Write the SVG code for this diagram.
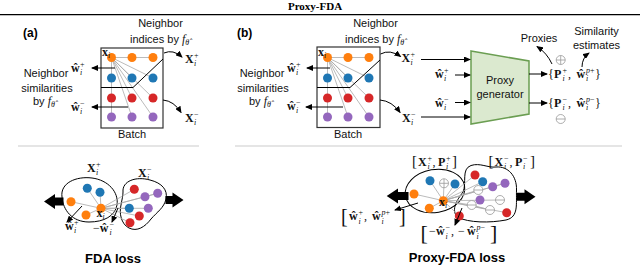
<svg xmlns="http://www.w3.org/2000/svg" width="640" height="275" viewBox="0 0 640 275">
<defs>
<marker id="ah" markerUnits="userSpaceOnUse" markerWidth="7" markerHeight="6" refX="6" refY="3" orient="auto">
<path d="M0,0 L7,3 L0,6 z" fill="#000"/>
</marker>
<style>
.o{fill:#ff7f0e}.b{fill:#1f77b4}.r{fill:#d62728}.p{fill:#9467bd}
.gl{stroke:#aaa;stroke-width:0.8;fill:none}
.ln{stroke:#000;stroke-width:1;fill:none}
.ar{stroke:#000;stroke-width:1;fill:none;marker-end:url(#ah)}
.lbl{font-family:"Liberation Sans",Arial,sans-serif;font-size:11px;fill:#111}
.hd{font-family:"Liberation Sans",Arial,sans-serif;font-size:12px;font-weight:bold}
.ttl{font-family:"Liberation Serif","Times New Roman",serif;font-size:11px;font-weight:bold}
.m{font-family:"Liberation Serif","Times New Roman",serif;font-size:12px;font-weight:bold;fill:#111}
.s{font-size:8px;font-weight:normal;font-style:italic}
.sn{font-size:8px;font-weight:normal}
.rg{font-weight:normal}
.blob{fill:none;stroke:#000;stroke-width:1}
.pm{fill:#fff;stroke:#999;stroke-width:0.8}
.box{fill:#fff;stroke:#333;stroke-width:1.2}
.big{fill:#000}
.loss{font-family:"Liberation Sans",Arial,sans-serif;font-size:13px;font-weight:bold}
</style>
</defs>

<!-- header -->
<text class="ttl" x="315" y="9.5" text-anchor="middle">Proxy-FDA</text>
<line x1="0" y1="14.7" x2="640" y2="14.7" stroke="#000" stroke-width="1.3"/>
<line x1="18" y1="146" x2="199" y2="146" stroke="#ddd" stroke-width="1.5"/>
<line x1="235" y1="146" x2="622" y2="146" stroke="#ddd" stroke-width="1.5"/>

<!-- ===== Panel (a) top ===== -->
<g id="label-a"><text class="hd" x="23" y="37">(a)</text></g>
<g id="a-indices-label">
<text class="lbl" x="160.5" y="27" text-anchor="middle">Neighbor</text>
<text class="lbl" x="130" y="43">indices by <tspan font-family="Liberation Serif,serif" font-style="italic" font-size="12">f</tspan><tspan font-family="Liberation Serif,serif" font-style="italic" font-size="8" dy="2">θ̂</tspan></text>
</g>
<g id="a-similarities-label">
<text class="lbl" x="46" y="77" text-anchor="middle">Neighbor</text>
<text class="lbl" x="47" y="92" text-anchor="middle">similarities</text>
<text class="lbl" x="33" y="105">by <tspan font-family="Liberation Serif,serif" font-style="italic" font-size="12">f</tspan><tspan font-family="Liberation Serif,serif" font-style="italic" font-size="8" dy="2">θ̂</tspan></text>
</g>
<g id="a-batch">
<rect class="box" x="101" y="48" width="62" height="80"/>
<g class="gl">
<line x1="111.5" y1="57.5" x2="153" y2="57.5"/>
<line x1="111.5" y1="57.5" x2="132" y2="78"/>
<line x1="111.5" y1="57.5" x2="153" y2="78"/>
<line x1="111.5" y1="57.5" x2="111.5" y2="117"/>
<line x1="111.5" y1="57.5" x2="132" y2="98"/>
<line x1="111.5" y1="57.5" x2="153" y2="98"/>
<line x1="111.5" y1="57.5" x2="132" y2="117"/>
<line x1="111.5" y1="57.5" x2="153" y2="117"/>
</g>
<circle class="o" cx="111.5" cy="57.5" r="4.5"/><circle class="o" cx="132" cy="57.5" r="4.5"/><circle class="o" cx="153" cy="57.5" r="4.5"/>
<circle class="b" cx="111.5" cy="78" r="4.5"/><circle class="b" cx="132" cy="78" r="4.5"/><circle class="b" cx="153" cy="78" r="4.5"/>
<circle class="r" cx="111.5" cy="98" r="4.5"/><circle class="r" cx="132" cy="98" r="4.5"/><circle class="r" cx="153" cy="98" r="4.5"/>
<circle class="p" cx="111.5" cy="117" r="4.5"/><circle class="p" cx="132" cy="117" r="4.5"/><circle class="p" cx="153" cy="117" r="4.5"/>
<path class="ln" d="M101,87.5 H133 L163,59"/>
<text class="m" x="102" y="55.5" font-size="11">x<tspan class="s" dy="2">i</tspan></text>
<text class="lbl" x="132" y="137.5" text-anchor="middle">Batch</text>
</g>
<g id="a-w-plus"><text class="m" x="71" y="71.5">ŵ<tspan class="sn" x="80" y="66.5">+</tspan><tspan class="s" x="80" y="74.5">i</tspan></text></g>
<g id="a-w-minus"><text class="m" x="71" y="111">ŵ<tspan class="sn" x="80" y="106">−</tspan><tspan class="s" x="80" y="114">i</tspan></text></g>
<g id="a-X-plus"><text class="m" x="185" y="63">X<tspan class="sn" x="194" y="58">+</tspan><tspan class="s" x="194" y="66">i</tspan></text></g>
<g id="a-X-minus"><text class="m" x="185" y="122">X<tspan class="sn" x="194" y="117">−</tspan><tspan class="s" x="194" y="125">i</tspan></text></g>

<!-- ===== Panel (b) top ===== -->
<g id="label-b"><text class="hd" x="237" y="37">(b)</text></g>
<g id="b-indices-label">
<text class="lbl" x="375.5" y="27" text-anchor="middle">Neighbor</text>
<text class="lbl" x="345" y="43">indices by <tspan font-family="Liberation Serif,serif" font-style="italic" font-size="12">f</tspan><tspan font-family="Liberation Serif,serif" font-style="italic" font-size="8" dy="2">θ̂</tspan></text>
</g>
<g id="b-similarities-label">
<text class="lbl" x="262" y="77" text-anchor="middle">Neighbor</text>
<text class="lbl" x="263" y="92" text-anchor="middle">similarities</text>
<text class="lbl" x="249" y="105">by <tspan font-family="Liberation Serif,serif" font-style="italic" font-size="12">f</tspan><tspan font-family="Liberation Serif,serif" font-style="italic" font-size="8" dy="2">θ̂</tspan></text>
</g>
<g id="b-batch">
<rect class="box" x="317" y="47" width="63" height="80.5"/>
<g class="gl">
<line x1="327.5" y1="57.5" x2="369" y2="57.5"/>
<line x1="327.5" y1="57.5" x2="348" y2="78"/>
<line x1="327.5" y1="57.5" x2="369" y2="78"/>
<line x1="327.5" y1="57.5" x2="327.5" y2="117"/>
<line x1="327.5" y1="57.5" x2="348" y2="98"/>
<line x1="327.5" y1="57.5" x2="369" y2="98"/>
<line x1="327.5" y1="57.5" x2="348" y2="117"/>
<line x1="327.5" y1="57.5" x2="369" y2="117"/>
</g>
<circle class="o" cx="327.5" cy="57.5" r="4.5"/><circle class="o" cx="348" cy="57.5" r="4.5"/><circle class="o" cx="369" cy="57.5" r="4.5"/>
<circle class="b" cx="327.5" cy="78" r="4.5"/><circle class="b" cx="348" cy="78" r="4.5"/><circle class="b" cx="369" cy="78" r="4.5"/>
<circle class="r" cx="327.5" cy="98" r="4.5"/><circle class="r" cx="348" cy="98" r="4.5"/><circle class="r" cx="369" cy="98" r="4.5"/>
<circle class="p" cx="327.5" cy="117" r="4.5"/><circle class="p" cx="348" cy="117" r="4.5"/><circle class="p" cx="369" cy="117" r="4.5"/>
<path class="ln" d="M317,87.5 H350 L380,60"/>
<text class="m" x="318" y="55.5" font-size="11">x<tspan class="s" dy="2">i</tspan></text>
<text class="lbl" x="348" y="137.5" text-anchor="middle">Batch</text>
</g>
<g id="b-w-plus"><text class="m" x="287" y="72">ŵ<tspan class="sn" x="296" y="67">+</tspan><tspan class="s" x="296" y="75">i</tspan></text></g>
<g id="b-w-minus"><text class="m" x="287" y="110">ŵ<tspan class="sn" x="296" y="105">−</tspan><tspan class="s" x="296" y="113">i</tspan></text></g>
<g id="b-X-plus"><text class="m" x="401.5" y="61.5">X<tspan class="sn" x="410.5" y="56.5">+</tspan><tspan class="s" x="410.5" y="64.5">i</tspan></text></g>
<g id="b-X-minus"><text class="m" x="402" y="122">X<tspan class="sn" x="411" y="117">−</tspan><tspan class="s" x="411" y="125">i</tspan></text></g>
<g id="b-w-plus-2"><text class="m" x="435" y="78">ŵ<tspan class="sn" x="444" y="73">+</tspan><tspan class="s" x="444" y="81">i</tspan></text></g>
<g id="b-w-minus-2"><text class="m" x="435" y="106.5">ŵ<tspan class="sn" x="444" y="101.5">−</tspan><tspan class="s" x="444" y="109.5">i</tspan></text></g>

<g id="proxy-generator">
<polygon points="471,51 529,61 529,114 471,124" fill="#dbe9cf" stroke="#6b9e52" stroke-width="1.5"/>
<text class="lbl" x="500" y="84" text-anchor="middle">Proxy</text>
<text class="lbl" x="500" y="97.5" text-anchor="middle">generator</text>
</g>
<g id="out-plus"><text class="m" x="548" y="78"><tspan class="rg">{</tspan><tspan x="554">P</tspan><tspan class="sn" x="562.5" y="73">+</tspan><tspan class="s" x="562.5" y="81">i</tspan><tspan class="rg" x="568" y="78">,</tspan><tspan x="576.5">ŵ</tspan><tspan class="s" x="586" y="73">p</tspan><tspan class="sn" y="73">+</tspan><tspan class="s" x="586" y="81">i</tspan><tspan class="rg" x="595" y="78">}</tspan></text></g>
<g id="out-minus"><text class="m" x="548" y="107"><tspan class="rg">{</tspan><tspan x="554">P</tspan><tspan class="sn" x="562.5" y="102">−</tspan><tspan class="s" x="562.5" y="110">i</tspan><tspan class="rg" x="568" y="107">,</tspan><tspan x="576.5">ŵ</tspan><tspan class="s" x="586" y="102">p</tspan><tspan class="sn" y="102">−</tspan><tspan class="s" x="586" y="110">i</tspan><tspan class="rg" x="595" y="107">}</tspan></text></g>
<g id="plus-sym"><circle class="pm" cx="560.7" cy="60" r="4.5"/><path d="M556.2,60 H565.2 M560.7,55.5 V64.5" stroke="#999" stroke-width="0.8"/></g>
<g id="minus-sym"><circle class="pm" cx="560.7" cy="119" r="4.5"/><path d="M556.2,119 H565.2" stroke="#999" stroke-width="0.8"/></g>
<g id="proxies-label"><text class="lbl" x="539" y="41.5" text-anchor="middle">Proxies</text></g>
<g id="similarity-label">
<text class="lbl" x="596.5" y="35" text-anchor="middle">Similarity</text>
<text class="lbl" x="596.5" y="48.5" text-anchor="middle">estimates</text>
</g>

<!-- ===== Panel (a) bottom ===== -->
<g id="a-loss">
<polygon class="big" points="44,201.5 55,194 55,197.5 63.5,197.5 63.5,205.5 55,205.5 55,209"/>
<polygon class="big" points="183.5,200 172.5,192.5 172.5,196 165.5,196 165.5,204 172.5,204 172.5,207.5"/>
<path class="blob" d="M62,197 C60,183 76,176 92,178 C108,180 119,192 117,205 C115,216 104,222 89,222 C72,222 63,210 62,197 Z"/>
<path class="blob" d="M123,192 C122,181 136,176 150,180 C162,183 168,190 166,199 C164,208 157,212 151,219 C145,227 137,232 129,228 C121,224 119,213 121,205 C122,199 123,196 123,192 Z"/>
<g class="gl">
<line x1="101" y1="208.3" x2="71" y2="201.7"/><line x1="101" y1="208.3" x2="87.3" y2="188.3"/><line x1="101" y1="208.3" x2="100" y2="192.3"/><line x1="101" y1="208.3" x2="86" y2="215"/>
<line x1="101" y1="208.3" x2="134.3" y2="189.3"/><line x1="101" y1="208.3" x2="145" y2="196.7"/><line x1="101" y1="208.3" x2="157.7" y2="193.3"/><line x1="101" y1="208.3" x2="129.3" y2="208.3"/>
<line x1="101" y1="208.3" x2="148.3" y2="208.3"/><line x1="101" y1="208.3" x2="139.3" y2="216"/><line x1="101" y1="208.3" x2="130" y2="222.7"/>
<line x1="145" y1="196.7" x2="157.7" y2="193.3"/>
</g>
<circle class="o" cx="71" cy="201.7" r="4.5"/><circle class="b" cx="87.3" cy="188.3" r="4.5"/><circle class="b" cx="100" cy="192.3" r="4.5"/><circle class="o" cx="86" cy="215" r="4.5"/>
<circle class="r" cx="134.3" cy="189.3" r="4.5"/><circle class="p" cx="145" cy="196.7" r="4.5"/><circle class="p" cx="157.7" cy="193.3" r="4.5"/><circle class="b" cx="129.3" cy="208.3" r="4.5"/>
<circle class="p" cx="148.3" cy="208.3" r="4.5"/><circle class="r" cx="139.3" cy="216" r="4.5"/><circle class="r" cx="130" cy="222.7" r="4.5"/>
<circle class="o" cx="101" cy="208.3" r="4.5"/>
<text class="m" x="96.5" y="217" font-size="11">x<tspan class="s" dy="2">i</tspan></text>
<text class="m" x="87" y="171.5">X<tspan class="sn" x="96" y="166.5">+</tspan><tspan class="s" x="96" y="174.5">i</tspan></text>
<text class="m" x="138" y="177">X<tspan class="sn" x="147" y="172">−</tspan><tspan class="s" x="147" y="180">i</tspan></text>
<text class="m" x="65" y="230">ŵ<tspan class="sn" x="74" y="225">+</tspan><tspan class="s" x="74" y="233">i</tspan></text>
<text class="m" x="93" y="231.5"><tspan class="rg">−</tspan>ŵ<tspan class="sn" x="109.5" y="226.5">−</tspan><tspan class="s" x="109.5" y="234.5">i</tspan></text>
<text class="loss" x="113" y="263" text-anchor="middle">FDA loss</text>
</g>

<!-- ===== Panel (b) bottom ===== -->
<g id="b-loss">
<polygon class="big" points="386.7,196 398,188.5 398,192 408.5,192 408.5,200 398,200 398,203.5"/>
<polygon class="big" points="535.5,196.7 524.5,189.2 524.5,192.7 516.5,192.7 516.5,200.7 524.5,200.7 524.5,204.2"/>
<ellipse class="blob" cx="435" cy="191" rx="30" ry="21.5" transform="rotate(-10 435 191)"/>
<path class="blob" d="M457,217 C451,209 457,200 463,192 C467,183 461,169 471,165.5 C480,162.5 488,168 496,167 C508,166 517,176 516.5,190 C516,204 519,217 506,220 C490,223 469,223 457,217 Z"/>
<g class="gl">
<line x1="443.3" y1="200.7" x2="430" y2="180.7"/><line x1="443.3" y1="200.7" x2="444" y2="183.3"/><line x1="443.3" y1="200.7" x2="455" y2="184"/><line x1="443.3" y1="200.7" x2="414" y2="194"/>
<line x1="443.3" y1="200.7" x2="429.3" y2="208.3"/><line x1="443.3" y1="200.7" x2="475" y2="175"/><line x1="443.3" y1="200.7" x2="482.7" y2="181.7"/><line x1="443.3" y1="200.7" x2="492.7" y2="186.7"/>
<line x1="443.3" y1="200.7" x2="505" y2="183.3"/><line x1="443.3" y1="200.7" x2="478.3" y2="190"/><line x1="443.3" y1="200.7" x2="500" y2="200"/><line x1="443.3" y1="200.7" x2="471.7" y2="205"/>
<line x1="443.3" y1="200.7" x2="490" y2="210"/><line x1="443.3" y1="200.7" x2="506.7" y2="212.7"/><line x1="443.3" y1="200.7" x2="459.3" y2="216"/>
<line x1="492.7" y1="186.7" x2="505" y2="183.3"/><line x1="471.7" y1="205" x2="490" y2="210"/>
</g>
<circle class="b" cx="430" cy="180.7" r="4.5"/><circle class="b" cx="455" cy="184" r="4.5"/><circle class="o" cx="414" cy="194" r="4.5"/><circle class="o" cx="429.3" cy="208.3" r="4.5"/>
<circle class="r" cx="475" cy="175" r="4.5"/><circle class="b" cx="482.7" cy="181.7" r="4.5"/><circle class="p" cx="492.7" cy="186.7" r="4.5"/><circle class="p" cx="505" cy="183.3" r="4.5"/>
<circle class="p" cx="480" cy="200" r="4.5"/><circle class="r" cx="506.7" cy="212.7" r="4.5"/><circle class="r" cx="459.3" cy="216" r="4.5"/>
<g>
<circle class="pm" cx="444" cy="183.3" r="4.5"/><path d="M439.5,183.3 H448.5 M444,178.8 V187.8" stroke="#999" stroke-width="0.8"/>
<circle class="pm" cx="478.3" cy="190" r="4.5"/><path d="M473.8,190 H482.8" stroke="#999" stroke-width="0.8"/>
<circle class="pm" cx="500" cy="200" r="4.5"/><path d="M495.5,200 H504.5" stroke="#999" stroke-width="0.8"/>
<circle class="pm" cx="471.7" cy="205" r="4.5"/><path d="M467.2,205 H476.2" stroke="#999" stroke-width="0.8"/>
<circle class="pm" cx="490" cy="210" r="4.5"/><path d="M485.5,210 H494.5" stroke="#999" stroke-width="0.8"/>
</g>
<circle class="o" cx="443.3" cy="200.7" r="4.5"/>
<text class="m" x="439" y="205.5" font-size="11">x<tspan class="s" dy="2">i</tspan></text>
<text class="m" x="412" y="165.5"><tspan class="rg" font-size="15">[</tspan><tspan x="418">X</tspan><tspan class="sn" x="427.5" y="160.5">+</tspan><tspan class="s" x="427.5" y="168.5">i</tspan><tspan class="rg" x="432.5" y="165.5">,</tspan><tspan x="438">P</tspan><tspan class="sn" x="446" y="160.5">+</tspan><tspan class="s" x="446" y="168.5">i</tspan><tspan class="rg" font-size="15" x="452" y="165.5">]</tspan></text>
<text class="m" x="488.5" y="165.5"><tspan class="rg" font-size="15">[</tspan><tspan x="494.5">X</tspan><tspan class="sn" x="504" y="160.5">−</tspan><tspan class="s" x="504" y="168.5">i</tspan><tspan class="rg" x="509.5" y="165.5">,</tspan><tspan x="515">P</tspan><tspan class="sn" x="523" y="160.5">−</tspan><tspan class="s" x="523" y="168.5">i</tspan><tspan class="rg" font-size="15" x="530" y="165.5">]</tspan></text>
<text class="m" x="341" y="222.5"><tspan class="rg" font-size="20">[</tspan><tspan x="349" y="219.5">ŵ</tspan><tspan class="sn" x="358.5" y="215">+</tspan><tspan class="s" x="358.5" y="224">i</tspan><tspan class="rg" x="364" y="219.5">,</tspan><tspan x="372" y="219.5">ŵ</tspan><tspan class="s" x="381.5" y="215">p</tspan><tspan class="sn" y="215">+</tspan><tspan class="s" x="381.5" y="224">i</tspan><tspan class="rg" font-size="20" x="399" y="222.5">]</tspan></text>
<text class="m" x="420.5" y="240"><tspan class="rg" font-size="22">[</tspan><tspan class="rg" x="429" y="234.5">−</tspan><tspan x="436" y="234.5">ŵ</tspan><tspan class="sn" x="445.5" y="230">−</tspan><tspan class="s" x="445.5" y="239">i</tspan><tspan class="rg" x="451" y="234.5">,</tspan><tspan class="rg" x="458" y="234.5">−</tspan><tspan x="467" y="234.5">ŵ</tspan><tspan class="s" x="476.5" y="230">p</tspan><tspan class="sn" y="230">−</tspan><tspan class="s" x="476.5" y="239">i</tspan><tspan class="rg" font-size="22" x="490" y="240">]</tspan></text>
<text class="loss" x="457" y="262" text-anchor="middle">Proxy-FDA loss</text>
</g>

<!-- ===== connectors ===== -->
<g id="connectors">
<line class="ar" x1="115" y1="68" x2="92" y2="68"/>
<line class="ar" x1="128" y1="107" x2="92" y2="107"/>
<path class="ar" d="M164,53 Q173,49 182,57"/>
<path class="ar" d="M163,100 Q174,101 181,112.5"/>
<line class="ar" x1="330" y1="68" x2="307" y2="68"/>
<line class="ar" x1="343" y1="107" x2="306" y2="107"/>
<path class="ar" d="M380.5,54 Q390,49 400.5,56.5"/>
<path class="ar" d="M380,100 Q392,101 400,112.5"/>
<line class="ar" x1="421" y1="59.5" x2="470" y2="59.5"/>
<line class="ar" x1="455" y1="75" x2="470" y2="75"/>
<line class="ar" x1="455" y1="102.5" x2="470" y2="102.5"/>
<line class="ar" x1="421" y1="117" x2="470" y2="117"/>
<line class="ar" x1="529" y1="74" x2="547" y2="74"/>
<line class="ar" x1="529" y1="103" x2="547" y2="103"/>
<path class="ar" d="M552,64 Q547,53 537,46.5"/>
<path class="ar" d="M582,67 Q582,58 589,53"/>
<line class="ar" x1="82" y1="206" x2="67" y2="222"/>
<line class="ar" x1="118" y1="208" x2="112" y2="222"/>
<line class="ar" x1="418" y1="203" x2="395" y2="210"/>
<line class="ar" x1="462" y1="208" x2="455" y2="225"/>
</g>
</svg>
